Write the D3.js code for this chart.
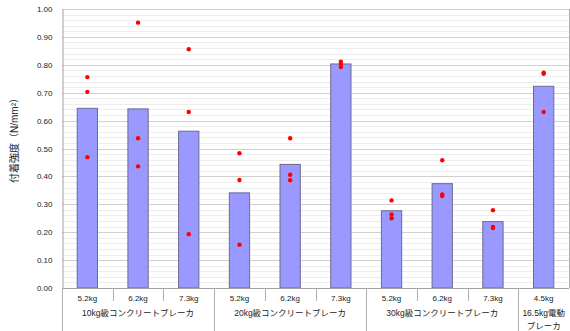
<!DOCTYPE html>
<html>
<head>
<meta charset="utf-8">
<script src="https://cdn.jsdelivr.net/npm/d3@7"></script>
<style>
  html, body { margin: 0; padding: 0; background: #fff; }
  svg { display: block; font-family: "Liberation Sans", Arial, "Noto Sans CJK JP", sans-serif; }
</style>
</head>
<body>
<svg id="chart" width="570" height="331"></svg>
<script>
// Breaker sizes (weight) and their classes
const categories = ["5.2kg", "6.2kg", "7.3kg", "5.2kg", "6.2kg", "7.3kg", "5.2kg", "6.2kg", "7.3kg", "4.5kg"];
const groups = [
  { label: ["10kg級コンクリートブレーカ"], from: 0, to: 2 },
  { label: ["20kg級コンクリートブレーカ"], from: 3, to: 5 },
  { label: ["30kg級コンクリートブレーカ"], from: 6, to: 8 },
  { label: ["16.5kg電動", "ブレーカ"], from: 9, to: 9 }
];
// Mean bond strength (bars) and individual test results (dots), N/mm²
const meanValues = [0.644, 0.642, 0.562, 0.341, 0.443, 0.803, 0.277, 0.374, 0.238, 0.723];
const testValues = [
  [0.756, 0.703, 0.469],
  [0.951, 0.537, 0.436],
  [0.856, 0.631, 0.193],
  [0.483, 0.387, 0.155],
  [0.537, 0.406, 0.386],
  [0.811, 0.803, 0.792],
  [0.314, 0.264, 0.250],
  [0.458, 0.335, 0.330],
  [0.279, 0.219, 0.215],
  [0.772, 0.768, 0.631]
];
const yTicks = [0, 0.1, 0.2, 0.3, 0.4, 0.5, 0.6, 0.7, 0.8, 0.9, 1.0];
const yTitle = "付着強度（N/mm²）";

const svg = d3.select("#chart");
const plotL = 62, plotR = 569, plotT = 9, plotB = 288;

const x = d3.scaleBand().domain(d3.range(categories.length)).range([plotL, plotR]).paddingInner(0).paddingOuter(0);
const y = d3.scaleLinear().domain([0, 1]).range([plotB, plotT]);

// minor gridlines every 0.02
const minor = d3.range(0, 1.0001, 0.02).filter(v => Math.abs(v * 10 - Math.round(v * 10)) > 1e-6);
svg.append("g").selectAll("line").data(minor).join("line")
  .attr("x1", plotL).attr("x2", plotR)
  .attr("y1", d => Math.round(y(d)) + 0.5).attr("y2", d => Math.round(y(d)) + 0.5)
  .attr("stroke", "#ededed").attr("stroke-width", 1);

// major gridlines
svg.append("g").selectAll("line").data(yTicks.slice(1)).join("line")
  .attr("x1", plotL).attr("x2", plotR)
  .attr("y1", d => Math.round(y(d)) + 0.5).attr("y2", d => Math.round(y(d)) + 0.5)
  .attr("stroke", "#d0d0d0").attr("stroke-width", 1);

// plot frame (right side)
svg.append("line").attr("x1", plotR + 0.5).attr("x2", plotR + 0.5).attr("y1", plotT).attr("y2", plotB)
  .attr("stroke", "#b0b0b0");

// bars
const barW = x.bandwidth() * 0.4;
svg.append("g").selectAll("rect").data(meanValues).join("rect")
  .attr("x", (d, i) => x(i) + (x.bandwidth() - barW) / 2)
  .attr("y", d => y(d))
  .attr("width", barW)
  .attr("height", d => y(0) - y(d))
  .attr("fill", "#9999ff")
  .attr("stroke", "#6b6b8f")
  .attr("stroke-width", 1);

// individual results
const pts = [];
testValues.forEach((arr, i) => arr.forEach(v => pts.push({ i, v })));
svg.append("g").selectAll("circle").data(pts).join("circle")
  .attr("cx", d => x(d.i) + x.bandwidth() / 2)
  .attr("cy", d => y(d.v))
  .attr("r", 2.2)
  .attr("fill", "#ff0000");

// y axis
const yAxis = d3.axisLeft(y).tickValues(yTicks).tickFormat(d3.format(".2f")).tickSize(0).tickPadding(10);
const ga = svg.append("g").attr("transform", `translate(${plotL + 0.5},0)`).call(yAxis);
ga.select(".domain").attr("stroke", "#a0a0a0");
ga.selectAll("text").attr("font-size", 8).attr("fill", "#222");

// x axis baseline
svg.append("line").attr("x1", plotL).attr("x2", plotR).attr("y1", plotB + 0.5).attr("y2", plotB + 0.5)
  .attr("stroke", "#a0a0a0");

// category labels
svg.append("g").selectAll("text").data(categories).join("text")
  .attr("x", (d, i) => x(i) + x.bandwidth() / 2)
  .attr("y", 301)
  .attr("text-anchor", "middle")
  .attr("font-size", 8)
  .attr("fill", "#222")
  .text(d => d);

// separators between categories inside a group
const inner = [];
groups.forEach(g => { for (let k = g.from + 1; k <= g.to; k++) inner.push(k); });
svg.append("g").selectAll("line").data(inner).join("line")
  .attr("x1", d => Math.round(x(d)) + 0.5).attr("x2", d => Math.round(x(d)) + 0.5)
  .attr("y1", plotB).attr("y2", 301)
  .attr("stroke", "#b0b0b0");

// separators between groups
const outer = groups.map(g => g.from);
svg.append("g").selectAll("line").data(outer).join("line")
  .attr("x1", d => Math.round(x(d)) + 0.5).attr("x2", d => Math.round(x(d)) + 0.5)
  .attr("y1", plotB).attr("y2", 331)
  .attr("stroke", "#b0b0b0");

// group labels
const gl = svg.append("g").selectAll("text").data(groups).join("text")
  .attr("x", g => (x(g.from) + x(g.to) + x.bandwidth()) / 2)
  .attr("y", 316)
  .attr("text-anchor", "middle")
  .attr("font-size", 8.5)
  .attr("fill", "#222");
gl.selectAll("tspan").data(g => g.label.map((t, k) => ({ t, k, g }))).join("tspan")
  .attr("x", d => (x(d.g.from) + x(d.g.to) + x.bandwidth()) / 2)
  .attr("dy", d => d.k === 0 ? 0 : 13)
  .text(d => d.t);

// y title
svg.append("text")
  .attr("transform", `translate(18,138) rotate(-90)`)
  .attr("text-anchor", "middle")
  .attr("font-size", 10)
  .attr("fill", "#222")
  .text(yTitle);
</script>
</body>
</html>
